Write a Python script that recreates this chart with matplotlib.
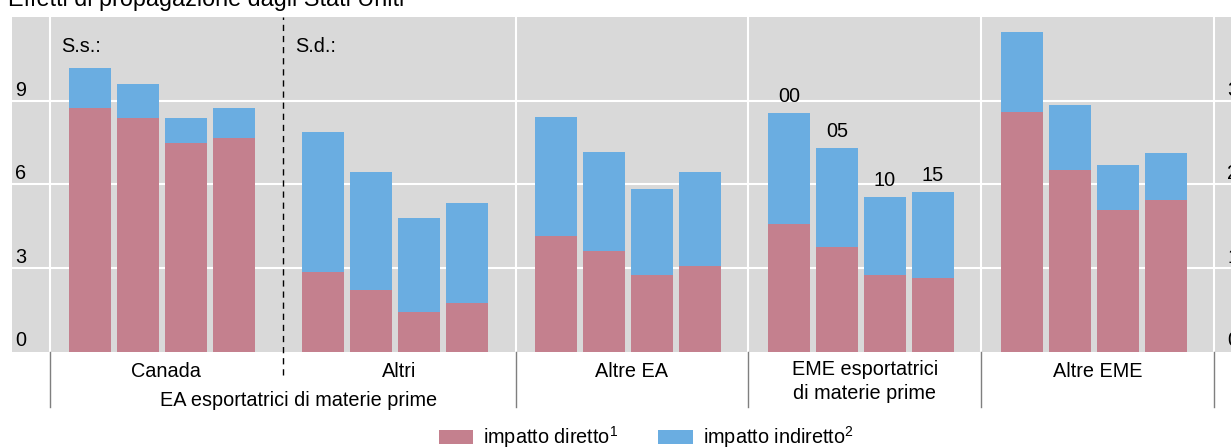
import numpy as np
import matplotlib
matplotlib.use("Agg")
import matplotlib.pyplot as plt
from matplotlib.patches import Patch
import matplotlib.transforms as mtrans

plt.rcParams['font.family'] = ['Liberation Sans', 'DejaVu Sans']
plt.rcParams['mathtext.fontset'] = 'custom'
plt.rcParams['mathtext.rm'] = 'Liberation Sans'
plt.rcParams['mathtext.it'] = 'Liberation Sans'

# ---------------- data ----------------
title = "Effetti di propagazione dagli Stati Uniti"
groups = ["Canada", "Altri", "Altre EA", "EME esportatrici\ndi materie prime", "Altre EME"]
supergroup = "EA esportatrici di materie prime"
years = ["00", "05", "10", "15"]
direct_canada = [8.73, 8.38, 7.48, 7.66]
direct_altri = [2.85, 2.21, 1.42, 1.74]
direct_altre_ea = [4.13, 3.62, 2.74, 3.07]
direct_eme_esp = [4.57, 3.75, 2.74, 2.64]
direct_altre_eme = [8.59, 6.51, 5.07, 5.43]
indirect_canada = [1.44, 1.21, 0.90, 1.07]
indirect_altri = [5.02, 4.23, 3.37, 3.59]
indirect_altre_ea = [4.28, 3.55, 3.10, 3.37]
indirect_eme_esp = [3.98, 3.55, 2.80, 3.08]
indirect_altre_eme = [2.87, 2.33, 1.62, 1.69]
left_ticks = [0, 3, 6, 9]
right_ticks = [0, 1, 2, 3]
legend_labels = ["impatto diretto$^{1}$", "impatto indiretto$^{2}$"]

direct = [direct_canada, direct_altri, direct_altre_ea, direct_eme_esp, direct_altre_eme]
indirect = [indirect_canada, indirect_altri, indirect_altre_ea, indirect_eme_esp, indirect_altre_eme]

RED = "#C4808E"
BLUE = "#6AADE1"
GRAY = "#D9D9D9"
FS = 14.3

W, H = 1231, 447
fig = plt.figure(figsize=(W / 100, H / 100), dpi=100)
ax = fig.add_axes([12 / W, (H - 351.5) / H, (1245 - 12) / W, (351.5 - 17) / H])
ax.set_facecolor(GRAY)
for s in ax.spines.values():
    s.set_visible(False)
ax.set_xticks([])
ax.set_yticks([])

gw = 232.8  # px per group
ax.set_xlim((12 - 50) / gw - 0.5, (1245 - 50) / gw - 0.5)
ax.set_ylim(0, 12)

# grid
for t in left_ticks[1:]:
    ax.axhline(t, color="white", lw=1.5, zorder=1)
for b in [-0.5, 1.5, 2.5, 3.5, 4.5]:
    ax.axvline(b, color="white", lw=1.5, zorder=1)

pitch = 48 / gw
width = 42 / gw
shift = -4 / gw
for i in range(len(groups)):
    xs = i + shift + (np.arange(4) - 1.5) * pitch
    ax.bar(xs, direct[i], width, color=RED, zorder=2, linewidth=0)
    ax.bar(xs, indirect[i], width, bottom=direct[i], color=BLUE, zorder=2, linewidth=0)
    if i == 3:
        tops = np.array(direct[i]) + np.array(indirect[i])
        for x, t, lab in zip(xs, tops, years):
            ax.annotate(lab, (x, t), xytext=(0, 8), textcoords="offset points",
                        ha="center", va="baseline", fontsize=FS, zorder=3)

# dashed separator between Canada and Altri
ax.plot([0.5, 0.5], [-0.84, 12], color="black", lw=1.0,
        linestyle=(0, (4.5, 3.5)), clip_on=False, zorder=3)
# solid separators below axis
for b in [-0.5, 1.5, 2.5, 3.5, 4.5]:
    ax.plot([b, b], [0, -1.99], color="#7f7f7f", lw=1.0, clip_on=False, zorder=3)

# y tick labels (inside, above gridlines)
blend_l = mtrans.blended_transform_factory(fig.transFigure, ax.transData)
tick_tr = mtrans.offset_copy(blend_l, fig=fig, y=3.6, units="points")
for t in left_ticks:
    ax.text(15 / W, t, str(t), transform=tick_tr, ha="left", va="baseline", fontsize=FS)
for t in right_ticks:
    ax.text(1227.5 / W, t * 3, str(t), transform=tick_tr, ha="left", va="baseline", fontsize=FS)

# panel annotations
ax.text(61 / W, 10.75, "S.s.:", transform=blend_l, ha="left", va="baseline", fontsize=FS)
ax.text(295 / W, 10.75, "S.d.:", transform=blend_l, ha="left", va="baseline", fontsize=FS)

# category labels
for i, g in enumerate(groups):
    yy = -1.08 if "\n" in g else -0.70
    ax.text(i, yy, g, ha="center", va="center", fontsize=FS, linespacing=1.35)
ax.text((299 - 50) / gw - 0.5, -1.74, supergroup, ha="center", va="center", fontsize=FS)

# title (cropped at top)
fig.text(8 / W, 1 - 6 / H, title, ha="left", va="baseline", fontsize=16.8)

# legend
handles = [Patch(facecolor=RED, edgecolor="none"), Patch(facecolor=BLUE, edgecolor="none")]
fig.legend(handles, legend_labels, loc="center", bbox_to_anchor=(646 / W, 1 - 437 / H),
           ncol=2, frameon=False, fontsize=FS, handlelength=1.75, handleheight=0.7,
           handletextpad=0.5, columnspacing=2.0, borderpad=0, borderaxespad=0)

fig.savefig("out.png", dpi=100)
